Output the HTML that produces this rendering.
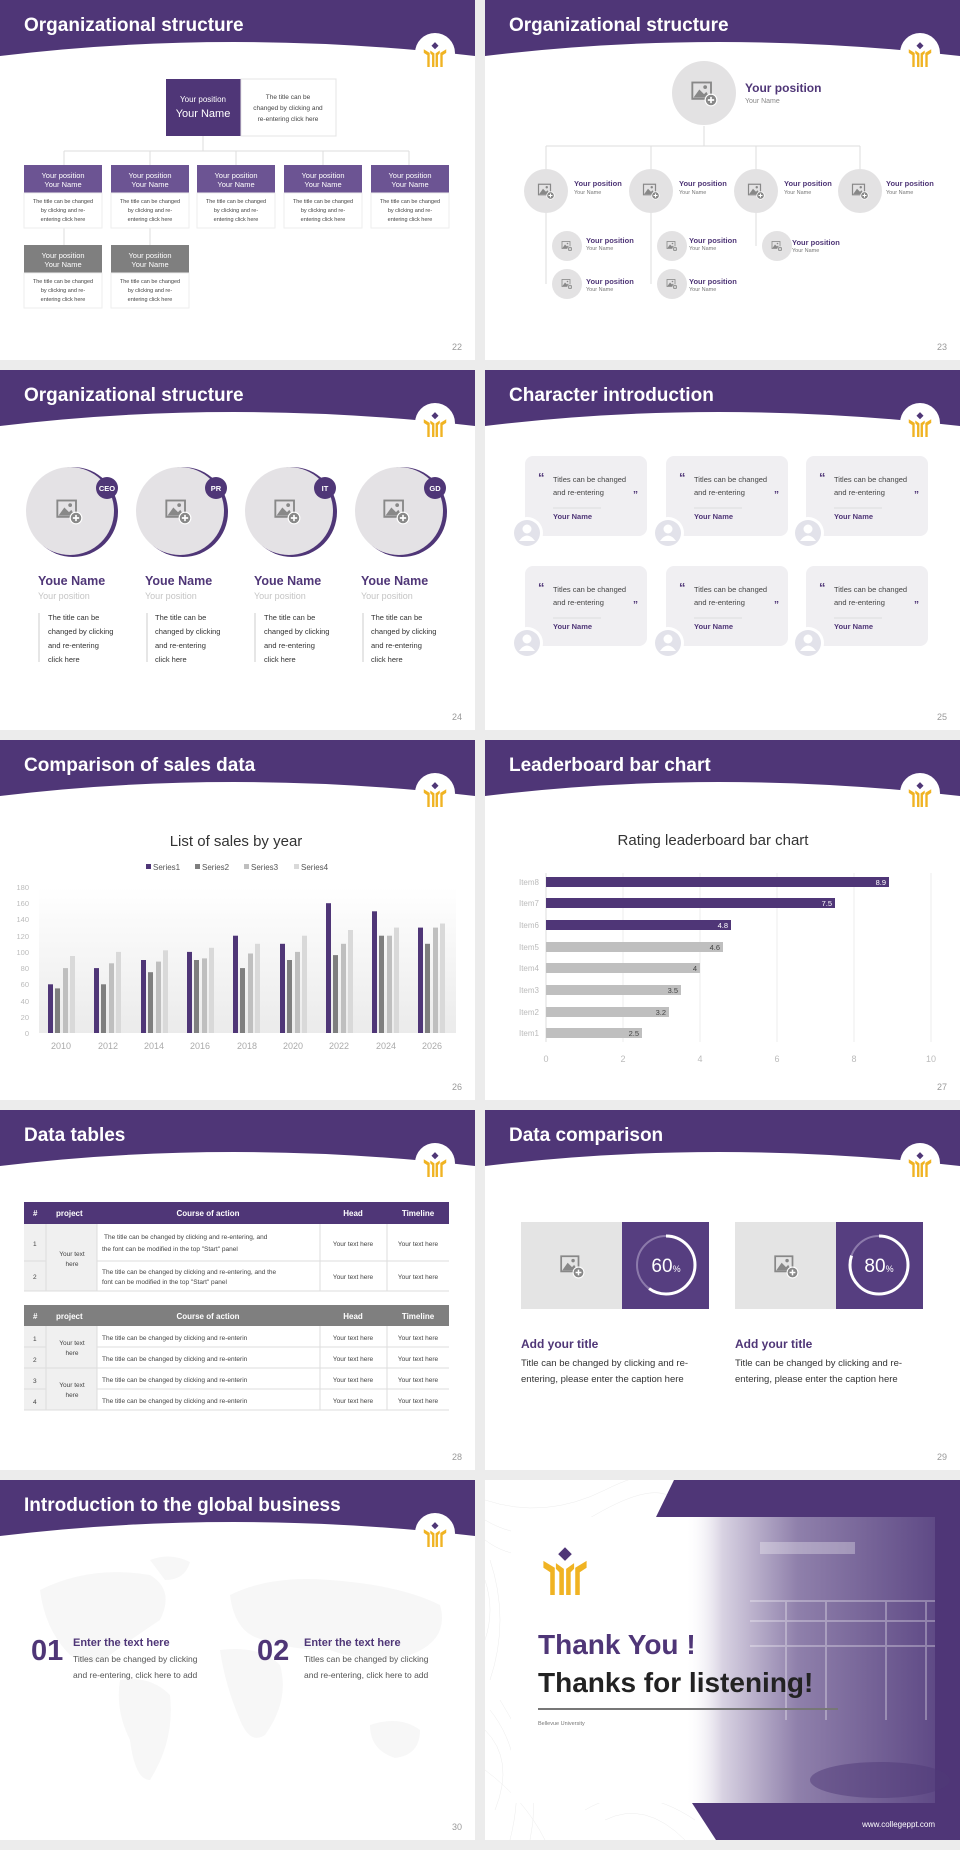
<!DOCTYPE html>
<html><head><meta charset="utf-8"><style>
*{margin:0;padding:0;box-sizing:border-box}
body{width:960px;height:1850px;background:#ececec;position:relative;overflow:hidden;font-family:"Liberation Sans",Arial,sans-serif}
.s{position:absolute;width:475px;height:360px;background:#fff;overflow:hidden}
.s>svg{position:absolute;left:0;top:0}
.pn{font-size:9px;fill:#999}
</style></head><body>
<svg width="0" height="0" style="position:absolute">
<defs>
<symbol id="logo" viewBox="0 0 40 44">
<polygon points="20,2 26,8 20,14 14,8" fill="#4f3677"/>
<polygon points="1,14 11,20 11,44 7,44 7,24 1,20" fill="#f0b323"/>
<polygon points="39,14 29,20 29,44 33,44 33,24 39,20" fill="#f0b323"/>
<polygon points="12,16 19,21 19,44 15,44 15,24 12,21" fill="#f0b323"/>
<polygon points="28,16 21,21 21,44 25,44 25,24 28,21" fill="#f0b323"/>
</symbol>
<symbol id="img" viewBox="0 0 24 24">
<rect x="2" y="3" width="16" height="14" fill="none" stroke="#888" stroke-width="1.6"/>
<polygon points="3,16 8,9 12,13 14,11 17,16" fill="#888"/>
<circle cx="13" cy="7" r="1.6" fill="#888"/>
<circle cx="18" cy="18" r="5" fill="#888" stroke="#fff" stroke-width="1"/>
<path d="M18,15.3V20.7M15.3,18H20.7" stroke="#fff" stroke-width="1.4"/>
</symbol>
<symbol id="hd" viewBox="0 0 475 70">
<path d="M0,0H475V56Q230,28 0,56Z" fill="#4f3677"/>
<circle cx="435" cy="53" r="20" fill="#fff"/>
<use href="#logo" x="423" y="41" width="24" height="26"/>
</symbol>
<linearGradient id="cg" x1="0" y1="0" x2="0" y2="1"><stop offset="0" stop-color="#fff"/><stop offset="1" stop-color="#ebebeb"/></linearGradient>
<linearGradient id="ph" x1="0" y1="0" x2="1" y2="0"><stop offset="0" stop-color="#fff" stop-opacity="0"/><stop offset="0.15" stop-color="#d8d2e2"/><stop offset="0.45" stop-color="#8f80ab"/><stop offset="1" stop-color="#5f4a86"/></linearGradient>
</defs>
</svg>

<!-- 22 -->
<div class="s" style="left:0;top:0"><svg width="475" height="360">
<use href="#hd" width="475" height="70"/>
<text x="24" y="31" font-size="19" font-weight="bold" fill="#fff">Organizational structure</text>
<rect x="166" y="79" width="75" height="57" fill="#4f3677"/>
<rect x="241" y="79" width="95" height="57" fill="#fff" stroke="#e4e4e4"/>
<text x="203" y="102" font-size="8" fill="#fff" text-anchor="middle">Your position</text>
<text x="203" y="117" font-size="11" fill="#fff" text-anchor="middle">Your Name</text>
<g font-size="6.5" fill="#444" text-anchor="middle"><text x="288" y="99">The title can be</text><text x="288" y="110">changed by clicking and</text><text x="288" y="121">re-entering click here</text></g>
<g stroke="#ddd" fill="none"><path d="M203,136V151M64,151H409M64,151V165M150,151V165M236,151V165M323,151V165M409,151V165M64,228V245M150,228V245"/></g>
<g font-size="7.5" text-anchor="middle">
<rect x="24" y="165" width="78" height="28" fill="#6c5493"/><rect x="24" y="193" width="78" height="35" fill="#fff" stroke="#eee"/>
<rect x="111" y="165" width="78" height="28" fill="#6c5493"/><rect x="111" y="193" width="78" height="35" fill="#fff" stroke="#eee"/>
<rect x="197" y="165" width="78" height="28" fill="#6c5493"/><rect x="197" y="193" width="78" height="35" fill="#fff" stroke="#eee"/>
<rect x="284" y="165" width="78" height="28" fill="#6c5493"/><rect x="284" y="193" width="78" height="35" fill="#fff" stroke="#eee"/>
<rect x="371" y="165" width="78" height="28" fill="#6c5493"/><rect x="371" y="193" width="78" height="35" fill="#fff" stroke="#eee"/>
<rect x="24" y="245" width="78" height="28" fill="#7f7f7f"/><rect x="24" y="273" width="78" height="35" fill="#fff" stroke="#eee"/>
<rect x="111" y="245" width="78" height="28" fill="#7f7f7f"/><rect x="111" y="273" width="78" height="35" fill="#fff" stroke="#eee"/>
<g fill="#fff"><text x="63" y="178">Your position</text><text x="63" y="187">Your Name</text>
<text x="150" y="178">Your position</text><text x="150" y="187">Your Name</text>
<text x="236" y="178">Your position</text><text x="236" y="187">Your Name</text>
<text x="323" y="178">Your position</text><text x="323" y="187">Your Name</text>
<text x="410" y="178">Your position</text><text x="410" y="187">Your Name</text>
<text x="63" y="258">Your position</text><text x="63" y="267">Your Name</text>
<text x="150" y="258">Your position</text><text x="150" y="267">Your Name</text></g>
<g fill="#444" font-size="5.5">
<text x="63" y="203">The title can be changed</text><text x="63" y="212">by clicking and re-</text><text x="63" y="221">entering click here</text>
<text x="150" y="203">The title can be changed</text><text x="150" y="212">by clicking and re-</text><text x="150" y="221">entering click here</text>
<text x="236" y="203">The title can be changed</text><text x="236" y="212">by clicking and re-</text><text x="236" y="221">entering click here</text>
<text x="323" y="203">The title can be changed</text><text x="323" y="212">by clicking and re-</text><text x="323" y="221">entering click here</text>
<text x="410" y="203">The title can be changed</text><text x="410" y="212">by clicking and re-</text><text x="410" y="221">entering click here</text>
<text x="63" y="283">The title can be changed</text><text x="63" y="292">by clicking and re-</text><text x="63" y="301">entering click here</text>
<text x="150" y="283">The title can be changed</text><text x="150" y="292">by clicking and re-</text><text x="150" y="301">entering click here</text>
</g></g>
<text x="462" y="350" class="pn" text-anchor="end">22</text>
</svg></div>

<!-- 23 -->
<div class="s" style="left:485px;top:0"><svg width="475" height="360">
<use href="#hd" width="475" height="70"/>
<text x="24" y="31" font-size="19" font-weight="bold" fill="#fff">Organizational structure</text>
<g stroke="#ddd" fill="none"><path d="M219,126V146M61,146H375M61,146V191M166,146V191M271,146V191M375,146V191M61,191V284M166,191V284M271,191V246"/></g>
<g fill="#e3e2e3">
<circle cx="219" cy="93" r="32"/>
<circle cx="61" cy="191" r="22"/><circle cx="166" cy="191" r="22"/><circle cx="271" cy="191" r="22"/><circle cx="375" cy="191" r="22"/>
<circle cx="82" cy="246" r="15"/><circle cx="187" cy="246" r="15"/><circle cx="292" cy="246" r="15"/>
<circle cx="82" cy="284" r="15"/><circle cx="187" cy="284" r="15"/>
</g>
<use href="#img" x="205" y="79" width="28" height="28"/>
<use href="#img" x="52" y="182" width="18" height="18"/><use href="#img" x="157" y="182" width="18" height="18"/><use href="#img" x="262" y="182" width="18" height="18"/><use href="#img" x="366" y="182" width="18" height="18"/>
<use href="#img" x="76" y="240" width="12" height="12"/><use href="#img" x="181" y="240" width="12" height="12"/><use href="#img" x="286" y="240" width="12" height="12"/>
<use href="#img" x="76" y="278" width="12" height="12"/><use href="#img" x="181" y="278" width="12" height="12"/>
<text x="260" y="92" font-size="12" font-weight="bold" fill="#4f3677">Your position</text>
<text x="260" y="103" font-size="7" fill="#888">Your Name</text>
<g font-size="7.5" font-weight="bold" fill="#4f3677">
<text x="89" y="186">Your position</text><text x="194" y="186">Your position</text><text x="299" y="186">Your position</text><text x="401" y="186">Your position</text>
<text x="101" y="243">Your position</text><text x="204" y="243">Your position</text><text x="307" y="245">Your position</text>
<text x="101" y="284">Your position</text><text x="204" y="284">Your position</text></g>
<g font-size="5.5" fill="#777">
<text x="89" y="194">Your Name</text><text x="194" y="194">Your Name</text><text x="299" y="194">Your Name</text><text x="401" y="194">Your Name</text>
<text x="101" y="250">Your Name</text><text x="204" y="250">Your Name</text><text x="307" y="252">Your Name</text>
<text x="101" y="291">Your Name</text><text x="204" y="291">Your Name</text></g>
<text x="462" y="350" class="pn" text-anchor="end">23</text>
</svg></div>

<!-- 24 -->
<div class="s" style="left:0;top:370px"><svg width="475" height="360">
<use href="#hd" width="475" height="70"/>
<text x="24" y="31" font-size="19" font-weight="bold" fill="#fff">Organizational structure</text>
<g fill="#4f3677"><circle cx="73" cy="142" r="45"/><circle cx="183" cy="142" r="45"/><circle cx="292" cy="142" r="45"/><circle cx="402" cy="142" r="45"/></g>
<g fill="#e4e2e5"><circle cx="70" cy="141" r="44"/><circle cx="180" cy="141" r="44"/><circle cx="289" cy="141" r="44"/><circle cx="399" cy="141" r="44"/></g>
<g fill="#4f3677"><circle cx="107" cy="118" r="11"/><circle cx="216" cy="118" r="11"/><circle cx="325" cy="118" r="11"/><circle cx="435" cy="118" r="11"/></g>
<g fill="#fff" font-size="7.5" font-weight="bold" text-anchor="middle"><text x="107" y="121">CEO</text><text x="216" y="121">PR</text><text x="325" y="121">IT</text><text x="435" y="121">GD</text></g>
<use href="#img" x="55" y="127" width="28" height="28"/><use href="#img" x="164" y="127" width="28" height="28"/><use href="#img" x="273" y="127" width="28" height="28"/><use href="#img" x="382" y="127" width="28" height="28"/>
<g font-size="12.5" font-weight="bold" fill="#4f3677"><text x="38" y="215">Youe Name</text><text x="145" y="215">Youe Name</text><text x="254" y="215">Youe Name</text><text x="361" y="215">Youe Name</text></g>
<g font-size="9" fill="#c4c4c4"><text x="38" y="229">Your position</text><text x="145" y="229">Your position</text><text x="254" y="229">Your position</text><text x="361" y="229">Your position</text></g>
<g stroke="#ccc"><path d="M39,243V292M147,243V292M255,243V292M363,243V292"/></g>
<g font-size="7.5" fill="#333">
<text x="48" y="250">The title can be</text><text x="48" y="264">changed by clicking</text><text x="48" y="278">and re-entering</text><text x="48" y="292">click here</text>
<text x="155" y="250">The title can be</text><text x="155" y="264">changed by clicking</text><text x="155" y="278">and re-entering</text><text x="155" y="292">click here</text>
<text x="264" y="250">The title can be</text><text x="264" y="264">changed by clicking</text><text x="264" y="278">and re-entering</text><text x="264" y="292">click here</text>
<text x="371" y="250">The title can be</text><text x="371" y="264">changed by clicking</text><text x="371" y="278">and re-entering</text><text x="371" y="292">click here</text>
</g>
<text x="462" y="350" class="pn" text-anchor="end">24</text>
</svg></div>

<!-- 25 -->
<div class="s" style="left:485px;top:370px"><svg width="475" height="360">
<use href="#hd" width="475" height="70"/>
<text x="24" y="31" font-size="19" font-weight="bold" fill="#fff">Character introduction</text>
<g id="card">
<rect x="40" y="86" width="122" height="80" rx="8" fill="#f0eff2"/>
<circle cx="42" cy="163" r="16" fill="#fff"/><circle cx="42" cy="163" r="13" fill="#e2e2ea"/>
<circle cx="42" cy="159" r="4.5" fill="#fff"/><path d="M34,171Q42,160 50,171Z" fill="#fff"/>
<text x="53" y="112" font-size="13" font-weight="bold" fill="#4f3677">“</text>
<text x="68" y="112" font-size="7.5" fill="#444">Titles can be changed</text>
<text x="68" y="125" font-size="7.5" fill="#444">and re-entering</text>
<text x="148" y="128" font-size="10" font-weight="bold" fill="#4f3677">”</text>
<path d="M68,138H116" stroke="#ddd"/>
<text x="68" y="149" font-size="7.5" font-weight="bold" fill="#4f3677">Your Name</text>
</g>
<use href="#card" x="141"/><use href="#card" x="281"/>
<use href="#card" y="110"/><use href="#card" x="141" y="110"/><use href="#card" x="281" y="110"/>
<text x="462" y="350" class="pn" text-anchor="end">25</text>
</svg></div>

<!-- 26 -->
<div class="s" style="left:0;top:740px"><svg width="475" height="360">
<use href="#hd" width="475" height="70"/>
<text x="24" y="31" font-size="19" font-weight="bold" fill="#fff">Comparison of sales data</text>
<text x="236" y="106" font-size="15" fill="#333" text-anchor="middle">List of sales by year</text>
<g font-size="8" fill="#555">
<rect x="146" y="124" width="5" height="5" fill="#4f3677"/><text x="153" y="130">Series1</text>
<rect x="195" y="124" width="5" height="5" fill="#7f7f7f"/><text x="202" y="130">Series2</text>
<rect x="244" y="124" width="5" height="5" fill="#bfbfbf"/><text x="251" y="130">Series3</text>
<rect x="294" y="124" width="5" height="5" fill="#d9d9d9"/><text x="301" y="130">Series4</text>
</g>
<rect x="39" y="147" width="417" height="146" fill="url(#cg)"/>
<g font-size="7.5" fill="#bbb" text-anchor="end">
<text x="29" y="150">180</text><text x="29" y="166">160</text><text x="29" y="182">140</text><text x="29" y="199">120</text><text x="29" y="215">100</text><text x="29" y="231">80</text><text x="29" y="247">60</text><text x="29" y="264">40</text><text x="29" y="280">20</text><text x="29" y="296">0</text></g>
<g>
<g transform="translate(48,0)"><rect x="0" y="244.3" width="5" height="48.7" fill="#4f3677"/><rect x="7" y="248.4" width="5" height="44.6" fill="#7f7f7f"/><rect x="15" y="228.1" width="5" height="64.9" fill="#bfbfbf"/><rect x="22" y="216" width="5" height="77" fill="#d9d9d9"/></g>
<g transform="translate(94,0)"><rect x="0" y="228.1" width="5" height="64.9" fill="#4f3677"/><rect x="7" y="244.3" width="5" height="48.7" fill="#7f7f7f"/><rect x="15" y="223.3" width="5" height="69.7" fill="#bfbfbf"/><rect x="22" y="211.9" width="5" height="81.1" fill="#d9d9d9"/></g>
<g transform="translate(141,0)"><rect x="0" y="220" width="5" height="73" fill="#4f3677"/><rect x="7" y="232.2" width="5" height="60.8" fill="#7f7f7f"/><rect x="15" y="221.6" width="5" height="71.4" fill="#bfbfbf"/><rect x="22" y="210.3" width="5" height="82.7" fill="#d9d9d9"/></g>
<g transform="translate(187,0)"><rect x="0" y="211.9" width="5" height="81.1" fill="#4f3677"/><rect x="7" y="220" width="5" height="73" fill="#7f7f7f"/><rect x="15" y="218.4" width="5" height="74.6" fill="#bfbfbf"/><rect x="22" y="207.8" width="5" height="85.2" fill="#d9d9d9"/></g>
<g transform="translate(233,0)"><rect x="0" y="195.7" width="5" height="97.3" fill="#4f3677"/><rect x="7" y="228.1" width="5" height="64.9" fill="#7f7f7f"/><rect x="15" y="213.5" width="5" height="79.5" fill="#bfbfbf"/><rect x="22" y="203.8" width="5" height="89.2" fill="#d9d9d9"/></g>
<g transform="translate(280,0)"><rect x="0" y="203.8" width="5" height="89.2" fill="#4f3677"/><rect x="7" y="220" width="5" height="73" fill="#7f7f7f"/><rect x="15" y="211.9" width="5" height="81.1" fill="#bfbfbf"/><rect x="22" y="195.7" width="5" height="97.3" fill="#d9d9d9"/></g>
<g transform="translate(326,0)"><rect x="0" y="163.2" width="5" height="129.8" fill="#4f3677"/><rect x="7" y="215.1" width="5" height="77.9" fill="#7f7f7f"/><rect x="15" y="203.8" width="5" height="89.2" fill="#bfbfbf"/><rect x="22" y="190" width="5" height="103" fill="#d9d9d9"/></g>
<g transform="translate(372,0)"><rect x="0" y="171.3" width="5" height="121.7" fill="#4f3677"/><rect x="7" y="195.7" width="5" height="97.3" fill="#7f7f7f"/><rect x="15" y="195.7" width="5" height="97.3" fill="#bfbfbf"/><rect x="22" y="187.6" width="5" height="105.4" fill="#d9d9d9"/></g>
<g transform="translate(418,0)"><rect x="0" y="187.6" width="5" height="105.4" fill="#4f3677"/><rect x="7" y="203.8" width="5" height="89.2" fill="#7f7f7f"/><rect x="15" y="187.6" width="5" height="105.4" fill="#bfbfbf"/><rect x="22" y="183.5" width="5" height="109.5" fill="#d9d9d9"/></g>
</g>
<g font-size="9" fill="#aaa" text-anchor="middle">
<text x="61" y="309">2010</text><text x="108" y="309">2012</text><text x="154" y="309">2014</text><text x="200" y="309">2016</text><text x="247" y="309">2018</text><text x="293" y="309">2020</text><text x="339" y="309">2022</text><text x="386" y="309">2024</text><text x="432" y="309">2026</text></g>
<text x="462" y="350" class="pn" text-anchor="end">26</text>
</svg></div>

<!-- 27 -->
<div class="s" style="left:485px;top:740px"><svg width="475" height="360">
<use href="#hd" width="475" height="70"/>
<text x="24" y="31" font-size="19" font-weight="bold" fill="#fff">Leaderboard bar chart</text>
<text x="228" y="105" font-size="15" fill="#333" text-anchor="middle">Rating leaderboard bar chart</text>
<g stroke="#eee"><path d="M138,133V302M215,133V302M292,133V302M369,133V302M446,133V302"/></g>
<path d="M61,133V302" stroke="#ddd"/>
<g fill="#4f3677"><rect x="61" y="137" width="343" height="10"/><rect x="61" y="158" width="289" height="10"/><rect x="61" y="180" width="185" height="10"/></g>
<g fill="#bfbfbf"><rect x="61" y="202" width="177" height="10"/><rect x="61" y="223" width="154" height="10"/><rect x="61" y="245" width="135" height="10"/><rect x="61" y="267" width="123" height="10"/><rect x="61" y="288" width="96" height="10"/></g>
<g font-size="7.5" text-anchor="end"><g fill="#fff"><text x="401" y="145">8.9</text><text x="347" y="166">7.5</text><text x="243" y="188">4.8</text></g>
<g fill="#444"><text x="235" y="210">4.6</text><text x="212" y="231">4</text><text x="193" y="253">3.5</text><text x="181" y="275">3.2</text><text x="154" y="296">2.5</text></g></g>
<g font-size="8" fill="#bbb" text-anchor="end"><text x="54" y="145">Item8</text><text x="54" y="166">Item7</text><text x="54" y="188">Item6</text><text x="54" y="210">Item5</text><text x="54" y="231">Item4</text><text x="54" y="253">Item3</text><text x="54" y="275">Item2</text><text x="54" y="296">Item1</text></g>
<g font-size="9" fill="#bbb" text-anchor="middle"><text x="61" y="322">0</text><text x="138" y="322">2</text><text x="215" y="322">4</text><text x="292" y="322">6</text><text x="369" y="322">8</text><text x="446" y="322">10</text></g>
<text x="462" y="350" class="pn" text-anchor="end">27</text>
</svg></div>

<!-- 28 -->
<div class="s" style="left:0;top:1110px"><svg width="475" height="360">
<use href="#hd" width="475" height="70"/>
<text x="24" y="31" font-size="19" font-weight="bold" fill="#fff">Data tables</text>
<rect x="24" y="92" width="425" height="22" fill="#4f3677"/>
<rect x="24" y="114" width="73" height="67" fill="#f0f0f0"/>
<g stroke="#ddd" fill="none"><path d="M24,151H46M97,151H449M24,181H449M46,114V181M97,114V181M320,114V181M387,114V181"/></g>
<rect x="24" y="195" width="425" height="21" fill="#7f7f7f"/>
<rect x="24" y="216" width="73" height="84" fill="#f0f0f0"/>
<g stroke="#ddd" fill="none"><path d="M24,237H46M97,237H449M24,258H449M24,279H46M97,279H449M24,300H449M46,216V300M97,216V300M320,216V300M387,216V300"/></g>
<g fill="#fff" font-size="8" font-weight="bold">
<text x="33" y="106">#</text><text x="56" y="106">project</text><text x="208" y="106" text-anchor="middle">Course of action</text><text x="353" y="106" text-anchor="middle">Head</text><text x="418" y="106" text-anchor="middle">Timeline</text>
<text x="33" y="209">#</text><text x="56" y="209">project</text><text x="208" y="209" text-anchor="middle">Course of action</text><text x="353" y="209" text-anchor="middle">Head</text><text x="418" y="209" text-anchor="middle">Timeline</text></g>
<g font-size="6.5" fill="#444">
<text x="33" y="136">1</text><text x="33" y="169">2</text>
<text x="72" y="146" text-anchor="middle">Your text</text><text x="72" y="156" text-anchor="middle">here</text>
<text x="104" y="129">The title can be changed by clicking and re-entering, and</text><text x="102" y="141">the font can be modified in the top "Start" panel</text>
<text x="102" y="164">The title can be changed by clicking and re-entering, and the</text><text x="102" y="174">font can be modified in the top "Start" panel</text>
<text x="353" y="136" text-anchor="middle">Your text here</text><text x="418" y="136" text-anchor="middle">Your text here</text>
<text x="353" y="169" text-anchor="middle">Your text here</text><text x="418" y="169" text-anchor="middle">Your text here</text>
<text x="33" y="231">1</text><text x="33" y="252">2</text><text x="33" y="273">3</text><text x="33" y="294">4</text>
<text x="72" y="235" text-anchor="middle">Your text</text><text x="72" y="245" text-anchor="middle">here</text>
<text x="72" y="277" text-anchor="middle">Your text</text><text x="72" y="287" text-anchor="middle">here</text>
<text x="102" y="230">The title can be changed by clicking and re-enterin</text><text x="102" y="251">The title can be changed by clicking and re-enterin</text><text x="102" y="272">The title can be changed by clicking and re-enterin</text><text x="102" y="293">The title can be changed by clicking and re-enterin</text>
<text x="353" y="230" text-anchor="middle">Your text here</text><text x="418" y="230" text-anchor="middle">Your text here</text>
<text x="353" y="251" text-anchor="middle">Your text here</text><text x="418" y="251" text-anchor="middle">Your text here</text>
<text x="353" y="272" text-anchor="middle">Your text here</text><text x="418" y="272" text-anchor="middle">Your text here</text>
<text x="353" y="293" text-anchor="middle">Your text here</text><text x="418" y="293" text-anchor="middle">Your text here</text>
</g>
<text x="462" y="350" class="pn" text-anchor="end">28</text>
</svg></div>

<!-- 29 -->
<div class="s" style="left:485px;top:1110px"><svg width="475" height="360">
<use href="#hd" width="475" height="70"/>
<text x="24" y="31" font-size="19" font-weight="bold" fill="#fff">Data comparison</text>
<rect x="36" y="112" width="101" height="87" fill="#e4e4e4"/><rect x="137" y="112" width="87" height="87" fill="#563e80"/>
<rect x="250" y="112" width="101" height="87" fill="#e4e4e4"/><rect x="351" y="112" width="87" height="87" fill="#563e80"/>
<use href="#img" x="74" y="143" width="26" height="26"/><use href="#img" x="288" y="143" width="26" height="26"/>
<circle cx="181" cy="155" r="29" fill="none" stroke="#8c7aab" stroke-width="2"/>
<circle cx="181" cy="155" r="29" fill="none" stroke="#fff" stroke-width="3" stroke-dasharray="109 200" transform="rotate(-90 181 155)"/>
<circle cx="394" cy="155" r="29" fill="none" stroke="#8c7aab" stroke-width="2"/>
<circle cx="394" cy="155" r="29" fill="none" stroke="#fff" stroke-width="3" stroke-dasharray="146 200" transform="rotate(-90 394 155)"/>
<text x="181" y="162" font-size="19" fill="#fff" text-anchor="middle">60<tspan font-size="9">%</tspan></text>
<text x="394" y="162" font-size="19" fill="#fff" text-anchor="middle">80<tspan font-size="9">%</tspan></text>
<g font-size="12" font-weight="bold" fill="#4f3677"><text x="36" y="238">Add your title</text><text x="250" y="238">Add your title</text></g>
<g font-size="9.5" fill="#333"><text x="36" y="256">Title can be changed by clicking and re-</text><text x="36" y="272">entering, please enter the caption here</text>
<text x="250" y="256">Title can be changed by clicking and re-</text><text x="250" y="272">entering, please enter the caption here</text></g>
<text x="462" y="350" class="pn" text-anchor="end">29</text>
</svg></div>

<!-- 30 -->
<div class="s" style="left:0;top:1480px"><svg width="475" height="360">
<g fill="#f7f7f7">
<path d="M40,110Q90,85 150,95Q175,110 160,140Q130,160 110,175Q95,190 70,175Q45,150 40,110Z"/>
<path d="M150,80Q170,72 190,82Q185,100 165,100Z"/>
<path d="M120,200Q150,195 170,215Q175,260 150,300Q135,300 130,260Q115,230 120,200Z"/>
<path d="M230,115Q270,95 330,100Q400,105 440,125Q450,160 410,175Q370,185 330,170Q290,170 265,160Q235,155 230,115Z"/>
<path d="M220,170Q260,165 280,185Q290,220 265,255Q250,265 240,240Q225,205 220,170Z"/>
<path d="M370,245Q400,235 420,250Q420,275 395,278Q370,270 370,245Z"/>
</g>
<use href="#hd" width="475" height="70"/>
<text x="24" y="31" font-size="19" font-weight="bold" fill="#fff">Introduction to the global business</text>
<g font-size="29" font-weight="bold" fill="#4f3677"><text x="31" y="180">01</text><text x="257" y="180">02</text></g>
<g font-size="11" font-weight="bold" fill="#4f3677"><text x="73" y="166">Enter the text here</text><text x="304" y="166">Enter the text here</text></g>
<g font-size="8.5" fill="#555"><text x="73" y="182">Titles can be changed by clicking</text><text x="73" y="198">and re-entering, click here to add</text>
<text x="304" y="182">Titles can be changed by clicking</text><text x="304" y="198">and re-entering, click here to add</text></g>
<text x="462" y="350" class="pn" text-anchor="end">30</text>
</svg></div>

<!-- 31 -->
<div class="s" style="left:485px;top:1480px"><svg width="475" height="360">
<g fill="none" stroke="#ececec" stroke-width="0.5">
<path d="M0,20Q60,40 120,10T200,5"/><path d="M0,40Q50,70 110,35T190,20"/><path d="M0,60Q40,90 90,60"/>
<path d="M0,250Q30,280 10,330"/><path d="M5,230Q45,280 25,360"/><path d="M15,220Q60,290 45,360"/>
<path d="M0,290Q40,320 60,360"/><path d="M120,340Q160,320 200,360"/><path d="M100,330Q150,300 210,340"/>
<path d="M0,100Q10,130 0,160"/><path d="M5,80Q25,140 5,200"/>
</g>
<polygon points="189,0 475,0 475,360 231,360 207,323 171,37" fill="#4f3677"/>
<rect x="26" y="37" width="424" height="286" fill="#fff"/>
<rect x="200" y="37" width="250" height="286" fill="url(#ph)"/>
<g fill="#fff" opacity="0.3"><rect x="275" y="62" width="95" height="12"/><rect x="265" y="120" width="185" height="2"/><rect x="265" y="140" width="185" height="2"/><rect x="265" y="165" width="185" height="2"/><rect x="300" y="120" width="2" height="120"/><rect x="340" y="120" width="2" height="120"/><rect x="400" y="120" width="2" height="120"/><rect x="440" y="120" width="2" height="120"/></g>
<ellipse cx="395" cy="300" rx="70" ry="18" fill="#4f3a78" opacity="0.5"/>
<use href="#logo" x="54" y="65" width="52" height="50"/>
<text x="53" y="174" font-size="28" font-weight="bold" fill="#4f3677">Thank You !</text>
<text x="53" y="212" font-size="28" font-weight="bold" fill="#222">Thanks for listening!</text>
<rect x="53" y="228" width="300" height="2" fill="#777"/>
<text x="53" y="245" font-size="5.5" fill="#777">Bellevue University</text>
<text x="450" y="347" font-size="8" fill="#fff" text-anchor="end">www.collegeppt.com</text>
</svg></div>
</body></html>
